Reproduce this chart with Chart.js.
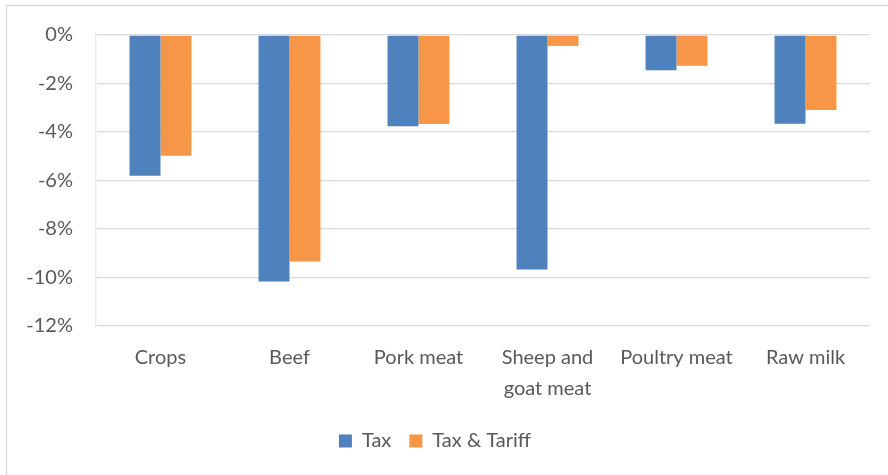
<!DOCTYPE html>
<html>
<head>
<meta charset="utf-8">
<script src="https://cdn.jsdelivr.net/npm/chart.js@4.4.0/dist/chart.umd.min.js"></script>
<style>
  html, body { margin: 0; padding: 0; background: #fff; }
  #wrap { width: 888px; height: 475px; position: relative; }
</style>
</head>
<body>
<div id="wrap"><canvas id="c"></canvas></div>
<script>
const categories = ["Crops", "Beef", "Pork meat", ["Sheep and", "goat meat"], "Poultry meat", "Raw milk"];
const taxValues = [-5.80, -10.16, -3.76, -9.67, -1.45, -3.66];
const taxTariffValues = [-4.98, -9.34, -3.67, -0.45, -1.27, -3.09];
const seriesNames = ["Tax", "Tax & Tariff"];
const yTicks = [0, -2, -4, -6, -8, -10, -12];

const frame = {
  id: 'frame',
  beforeDraw(chart) {
    const ctx = chart.ctx;
    ctx.save();
    ctx.fillStyle = '#ffffff';
    ctx.fillRect(0, 0, chart.width, chart.height);
    ctx.strokeStyle = '#d9d9d9';
    ctx.lineWidth = 1.3;
    ctx.beginPath();
    ctx.moveTo(6.5, chart.height);
    ctx.lineTo(6.5, 5.5);
    ctx.lineTo(chart.width, 5.5);
    ctx.stroke();
    ctx.restore();
  }
};

new Chart(document.getElementById('c'), {
  type: 'bar',
  data: {
    labels: categories,
    datasets: [
      { label: seriesNames[0], data: taxValues, backgroundColor: '#4F81BD', borderWidth: 0 },
      { label: seriesNames[1], data: taxTariffValues, backgroundColor: '#F79646', borderWidth: 0 }
    ]
  },
  options: {
    responsive: true,
    maintainAspectRatio: false,
    animation: false,
    layout: { padding: { top: 32, right: 18, bottom: 14, left: 0 } },
    datasets: { bar: { categoryPercentage: 0.48, barPercentage: 1.0 } },
    plugins: {
      legend: {
        position: 'bottom',
        labels: {
          color: '#595959',
          font: { family: 'Lato', size: 20 },
          boxWidth: 13,
          boxHeight: 13,
          padding: 18
        }
      },
      tooltip: { enabled: false }
    },
    scales: {
      x: {
        grid: { display: false, drawTicks: false },
        border: { display: false },
        ticks: {
          color: '#595959',
          font: { family: 'Lato', size: 20, lineHeight: 1.55 },
          padding: 16,
          maxRotation: 0,
          autoSkip: false
        },
        afterFit(scale) { scale.height = 87; }
      },
      y: {
        min: -12,
        max: 0,
        afterBuildTicks(scale) { scale.ticks = yTicks.map(v => ({ value: v })); },
        grid: { color: '#d9d9d9', lineWidth: 1.3, drawTicks: false },
        border: { display: true, color: '#eeece1', width: 1.5 },
        ticks: {
          color: '#595959',
          font: { family: 'Lato', size: 20 },
          padding: 23,
          callback: v => v + '%'
        },
        afterFit(scale) { scale.width = 96; }
      }
    }
  },
  plugins: [frame]
});
</script>
</body>
</html>
